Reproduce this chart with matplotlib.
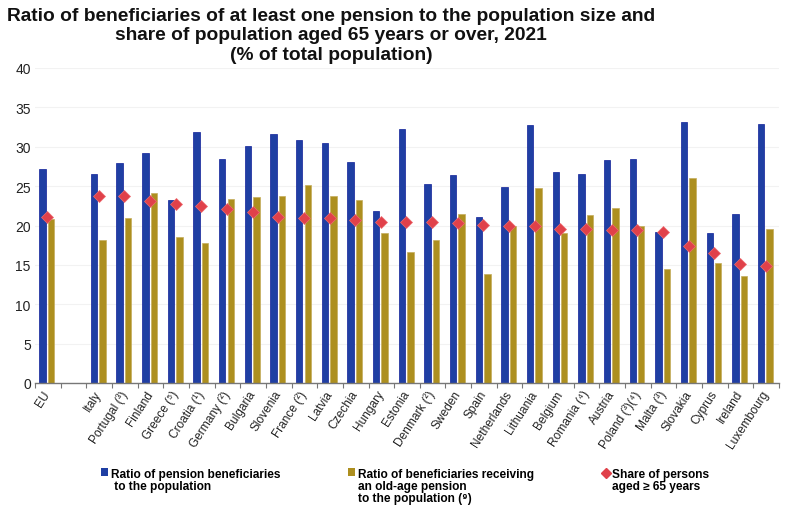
import matplotlib
matplotlib.use("Agg")
import matplotlib.pyplot as plt
import numpy as np
from matplotlib.lines import Line2D
from matplotlib.patches import Patch

plt.rcParams['font.family'] = ['Liberation Sans', 'DejaVu Sans']

countries = ["EU", "", "Italy", "Portugal (³)", "Finland", "Greece (⁵)", "Croatia (¹)", "Germany (²)",
             "Bulgaria", "Slovenia", "France (²)", "Latvia", "Czechia", "Hungary", "Estonia",
             "Denmark (²)", "Sweden", "Spain", "Netherlands", "Lithuania", "Belgium", "Romania (⁴)",
             "Austria", "Poland (³)(⁴)", "Malta (³)", "Slovakia", "Cyprus", "Ireland", "Luxembourg"]
pension = [27.2, np.nan, 26.6, 27.9, 29.2, 23.2, 31.9, 28.4, 30.1, 31.6, 30.8, 30.5, 28.1, 21.8, 32.3,
           25.3, 26.4, 21.1, 24.9, 32.8, 26.8, 26.5, 28.3, 28.4, 19.2, 33.2, 19.0, 21.5, 32.9]
oldage = [20.8, np.nan, 18.2, 20.9, 24.1, 18.6, 17.8, 23.4, 23.6, 23.8, 25.2, 23.7, 23.3, 19.0, 16.6,
          18.2, 21.4, 13.9, 20.0, 24.7, 19.0, 21.3, 22.2, 19.9, 14.5, 26.0, 15.2, 13.6, 19.5]
share65 = [21.1, np.nan, 23.8, 23.7, 23.1, 22.7, 22.5, 22.1, 21.7, 21.1, 21.0, 20.9, 20.7, 20.5, 20.4,
           20.4, 20.3, 20.1, 20.0, 19.9, 19.6, 19.5, 19.4, 19.4, 19.2, 17.4, 16.5, 15.1, 14.8]
title = ("Ratio of beneficiaries of at least one pension to the population size and\n"
         "share of population aged 65 years or over, 2021\n(% of total population)")
yticks = [0, 5, 10, 15, 20, 25, 30, 35, 40]
BLUE, GOLD, RED = "#1f3fa3", "#ad8f1f", "#e0414a"

W, H = 800, 510
fig = plt.figure(figsize=(W / 100, H / 100), dpi=100)
ax = fig.add_axes([35 / W, 1 - 384 / H, (779 - 35) / W, (384 - 69) / H])
x = np.arange(len(countries))
ax.bar(x - 0.2, pension, width=0.25, color=BLUE, edgecolor="#0f1f98", linewidth=0.5, zorder=2)
ax.bar(x + 0.13, oldage, width=0.25, color=GOLD, edgecolor="#c4ad5c", linewidth=0.5, zorder=2)
ax.plot(x - 0.02, share65, ls="none", marker="D", ms=6.3, color=RED, mec="#ee6a6f", mew=0.5, zorder=3)

ax.set_xlim(-0.5, len(countries) - 0.5)
ax.set_ylim(0, 40)
ax.set_yticks(yticks)
ax.grid(axis="y", color="#f2f2f2", lw=0.8, zorder=0)
ax.set_axisbelow(True)
for s in ("top", "right", "left"):
    ax.spines[s].set_visible(False)
ax.spines["bottom"].set_color("#777777")
ax.spines["bottom"].set_linewidth(1.0)
ax.tick_params(axis="y", length=0, labelsize=10, pad=3, colors="#222222")
ax.set_xticks(np.arange(len(countries) + 1) - 0.5, minor=False)
ax.set_xticklabels([])
ax.tick_params(axis="x", which="major", length=3.5, color="#777777", width=0.8)
ax.set_xticks(x, labels=countries, minor=True)
ax.tick_params(axis="x", which="minor", length=0, pad=6)
for lab in ax.get_xticklabels(minor=True):
    lab.set_rotation(57)
    lab.set_ha("right")
    lab.set_va("center")
    lab.set_rotation_mode("anchor")
    lab.set_fontsize(8.6)
    lab.set_color("#222222")

fig.text(331 / W, 1 - 8 / H, title, ha="center", va="top", fontsize=13.8, fontweight="bold",
         linespacing=1.18, color="#111111", multialignment="center")

legend_items = [
    (Patch(facecolor=BLUE), "Ratio of pension beneficiaries\n to the population", 101),
    (Patch(facecolor=GOLD), "Ratio of beneficiaries receiving\nan old-age pension\nto the population (⁹)", 348),
    (Line2D([], [], ls="none", marker="D", ms=5, color=RED), "Share of persons\naged ≥ 65 years", 602),
]
for handle, label, px in legend_items:
    leg = fig.legend(handles=[handle], labels=[label], loc="upper left", bbox_to_anchor=(px / W, 1 - 469.5 / H),
                     frameon=False, borderpad=0, borderaxespad=0, handlelength=0.6, handleheight=0.6,
                     handletextpad=0.25, prop={"size": 8.6, "weight": "bold"}, labelspacing=0)
    for t in leg.get_texts():
        t.set_linespacing(1.0)
    for column in leg._legend_handle_box.get_children():
        for row in column.get_children():
            row.align = "top"

fig.savefig("out.png", dpi=100, facecolor="white")
